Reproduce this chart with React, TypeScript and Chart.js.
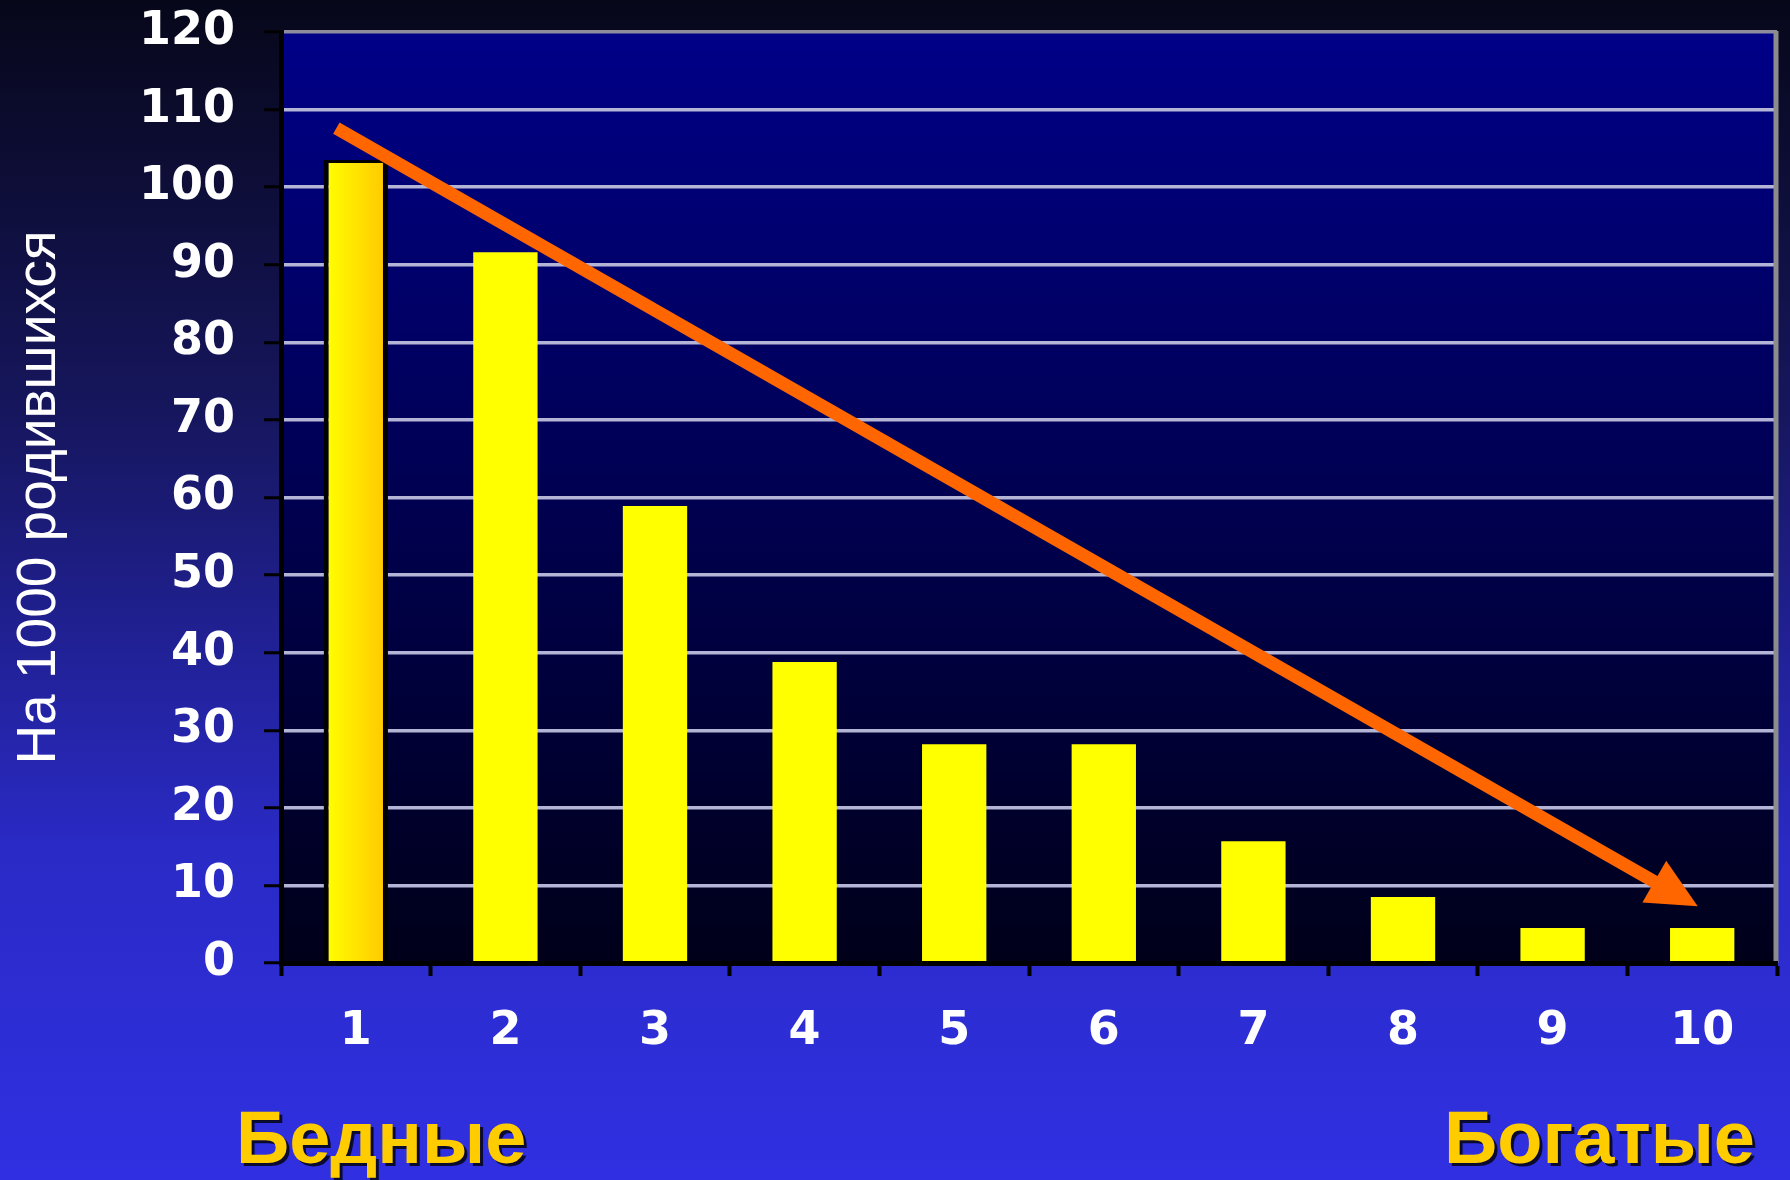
import React, { useEffect, useRef } from "react";
import { Chart, registerables } from "chart.js";

Chart.register(...registerables);

// ---- data ----
const categories: string[] = ["1", "2", "3", "4", "5", "6", "7", "8", "9", "10"];
const mortalityPer1000: number[] = [103.5, 91.6, 58.9, 38.8, 28.2, 28.2, 15.7, 8.5, 4.5, 4.5];
const yMin = 0;
const yMax = 120;
const yStep = 10;
const yAxisTitle = "На 1000 родившихся";
const poorLabel = "Бедные";
const richLabel = "Богатые";
// trend arrow: [category index, value]
const trendFrom: number[] = [-0.13, 107.6];
const trendTo: number[] = [8.97, 7.3];

const decorPlugin = {
  id: "decor",
  beforeDraw(chart: any) {
    const { ctx, width, height, chartArea: a } = chart;
    ctx.save();
    const g = ctx.createLinearGradient(0, 0, 0, height);
    g.addColorStop(0, "#07071a");
    g.addColorStop(0.35, "#16165e");
    g.addColorStop(0.72, "#2a2ac6");
    g.addColorStop(1, "#3030e2");
    ctx.fillStyle = g;
    ctx.fillRect(0, 0, width, height);
    const p = ctx.createLinearGradient(0, a.top, 0, a.bottom);
    p.addColorStop(0, "#000088");
    p.addColorStop(1, "#00001a");
    ctx.fillStyle = p;
    ctx.fillRect(a.left, a.top, a.right - a.left, a.bottom - a.top);
    ctx.restore();
  },
  afterDatasetsDraw(chart: any) {
    const { ctx, chartArea: a, scales } = chart;
    ctx.save();
    // right frame line
    ctx.strokeStyle = "#8c8c8c";
    ctx.lineWidth = 5;
    ctx.beginPath();
    ctx.moveTo(a.right - 1, a.top - 1);
    ctx.lineTo(a.right - 1, a.bottom);
    ctx.stroke();
    // trend arrow
    const xs = scales.x;
    const ys = scales.y;
    const x0 = xs.getPixelForValue(trendFrom[0]);
    const y0 = ys.getPixelForValue(trendFrom[1]);
    const x1 = xs.getPixelForValue(trendTo[0]);
    const y1 = ys.getPixelForValue(trendTo[1]);
    const ang = Math.atan2(y1 - y0, x1 - x0);
    const c = Math.cos(ang);
    const s = Math.sin(ang);
    const headLen = 50;
    const headHalf = 24;
    const bx = x1 - headLen * c;
    const by = y1 - headLen * s;
    ctx.strokeStyle = "#ff6600";
    ctx.fillStyle = "#ff6600";
    ctx.lineWidth = 13;
    ctx.lineCap = "butt";
    ctx.beginPath();
    ctx.moveTo(x0, y0);
    ctx.lineTo(bx + 4 * c, by + 4 * s);
    ctx.stroke();
    ctx.beginPath();
    ctx.moveTo(x1, y1);
    ctx.lineTo(bx - headHalf * s, by + headHalf * c);
    ctx.lineTo(bx + headHalf * s, by - headHalf * c);
    ctx.closePath();
    ctx.fill();
    ctx.restore();
  },
  afterDraw(chart: any) {
    const { ctx, chartArea: a } = chart;
    ctx.save();
    ctx.font = "bold 74px 'Liberation Sans', Arial, sans-serif";
    ctx.textBaseline = "alphabetic";
    ctx.shadowColor = "rgba(10,10,40,0.95)";
    ctx.shadowOffsetX = 3;
    ctx.shadowOffsetY = 3;
    ctx.shadowBlur = 0;
    ctx.fillStyle = "#ffcc00";
    ctx.textAlign = "left";
    ctx.fillText(poorLabel, a.left - 45, 1163);
    ctx.textAlign = "right";
    ctx.fillText(richLabel, a.right - 22, 1163);
    ctx.restore();
  },
};

export default function App() {
  const canvasRef = useRef<HTMLCanvasElement | null>(null);

  useEffect(() => {
    const canvas = canvasRef.current;
    if (!canvas) return;
    const tickFont = { family: "'DejaVu Sans', sans-serif", weight: "bold" as const, size: 46 };
    const chart = new Chart(canvas, {
      type: "bar",
      data: {
        labels: categories,
        datasets: [
          {
            data: mortalityPer1000,
            barPercentage: 0.43,
            categoryPercentage: 1.0,
            backgroundColor: (ctx: any) => {
              if (ctx.dataIndex !== 0) return "#ffff00";
              const ch = ctx.chart;
              const xs = ch.scales && ch.scales.x;
              if (!xs || !isFinite(xs.getPixelForValue(0))) return "#ffee00";
              const cx = xs.getPixelForValue(0);
              const g = ch.ctx.createLinearGradient(cx - 30, 0, cx + 30, 0);
              g.addColorStop(0, "#ffff00");
              g.addColorStop(1, "#ffc800");
              return g;
            },
            borderColor: "#000000",
            borderWidth: (ctx: any) =>
              ctx.dataIndex === 0 ? { top: 3, left: 5, right: 5, bottom: 0 } : 0,
            borderSkipped: "start",
          },
        ],
      },
      options: {
        responsive: false,
        devicePixelRatio: 1,
        animation: false,
        layout: { padding: { top: 32, right: 13, bottom: 119, left: 0 } },
        plugins: {
          legend: { display: false },
          tooltip: { enabled: false },
        },
        scales: {
          x: {
            afterFit: (scale: any) => {
              scale.height = 98;
              scale.paddingLeft = 0;
              scale.paddingRight = 0;
            },
            grid: {
              drawOnChartArea: false,
              offset: true,
              color: "#000000",
              tickColor: "#000000",
              tickLength: 13,
              tickWidth: 4,
            },
            border: { color: "#000000", width: 5, z: 1 },
            ticks: { color: "#ffffff", font: tickFont, padding: 28 },
          },
          y: {
            min: yMin,
            max: yMax,
            afterFit: (scale: any) => {
              scale.width = 281;
              scale.paddingTop = 0;
              scale.paddingBottom = 0;
            },
            ticks: { stepSize: yStep, color: "#ffffff", font: tickFont, padding: 29 },
            grid: {
              color: (c: any) => (c.tick && c.tick.value === yMax ? "#8c8c9c" : "#b4b4d6"),
              lineWidth: 3.5,
              tickColor: "#000000",
              tickLength: 17,
              tickWidth: 3,
            },
            border: { color: "#000000", width: 5, z: 1 },
            title: {
              display: true,
              text: yAxisTitle,
              color: "#ffffff",
              font: { family: "'Liberation Sans', Arial, sans-serif", size: 55, weight: "normal" },
              padding: { top: 7, bottom: 0 },
            },
          },
        },
      },
      plugins: [decorPlugin],
    } as any);
    return () => chart.destroy();
  }, []);

  return (
    <div style={{ position: "fixed", left: 0, top: 0, width: 1790, height: 1180 }}>
      <canvas ref={canvasRef} width={1790} height={1180} />
    </div>
  );
}
